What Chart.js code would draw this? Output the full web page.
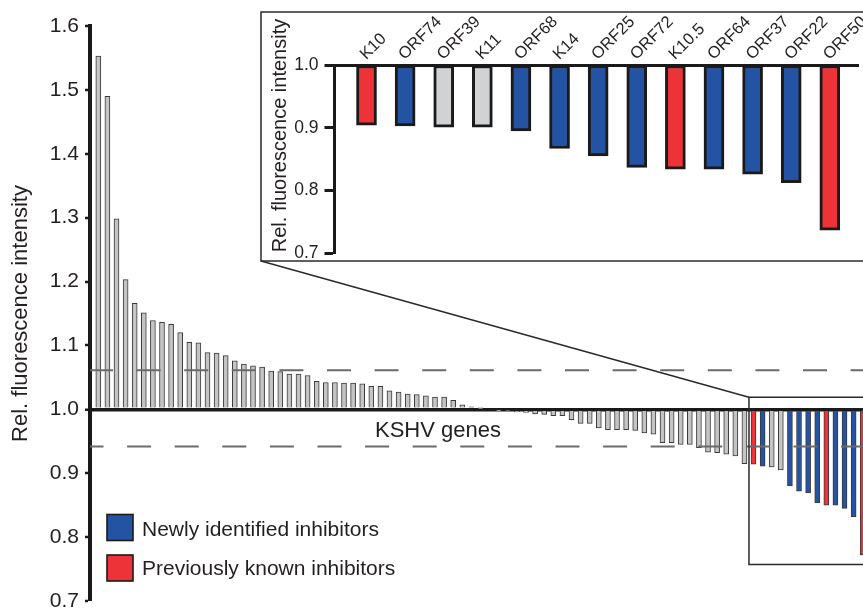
<!DOCTYPE html>
<html><head><meta charset="utf-8">
<script src="https://cdn.jsdelivr.net/npm/chart.js@4.4.1/dist/chart.umd.min.js"></script>
<style>
html,body{margin:0;padding:0;background:#fff;overflow:hidden;width:863px;height:609px;}
#wrap{position:relative;width:863px;height:609px;overflow:hidden;background:#fff;}
#main{position:absolute;left:0;top:0;}
#inset{position:absolute;left:260px;top:11px;}
</style></head><body>
<div id="wrap">
<canvas id="main" width="863" height="609"></canvas>
<canvas id="inset" width="620" height="252"></canvas>
</div>
<script>
// ---------- data ----------
const mainValues = [
  1.553,1.490,1.298,1.203,1.166,1.151,1.139,1.136,1.133,1.120,
  1.105,1.104,1.089,1.088,1.084,1.076,1.071,1.068,1.066,1.060,
  1.059,1.055,1.055,1.053,1.044,1.042,1.042,1.041,1.041,1.040,
  1.036,1.036,1.029,1.027,1.024,1.023,1.021,1.019,1.019,1.014,
  1.007,1.004,1.001,1.000,0.999,0.998,0.996,0.995,0.993,0.992,
  0.990,0.990,0.984,0.978,0.978,0.971,0.968,0.968,0.968,0.967,
  0.963,0.961,0.948,0.948,0.945,0.945,0.940,0.933,0.932,0.930,
  0.927,0.915,0.914,0.911,0.910,0.905,0.880,0.872,0.869,0.854,
  0.850,0.850,0.845,0.832,0.772
];
const mainThresholds = [1.061, 0.942];
const mainYTicks = [0.7,0.8,0.9,1.0,1.1,1.2,1.3,1.4,1.5,1.6];
const insetGenes = ['K10','ORF74','ORF39','K11','ORF68','K14','ORF25','ORF72','K10.5','ORF64','ORF37','ORF22','ORF50'];
const insetValues = [0.904,0.903,0.901,0.901,0.895,0.867,0.855,0.837,0.834,0.834,0.826,0.8125,0.737];
const insetTypes = ['known','new','other','other','new','new','new','new','known','new','new','new','known'];
const insetYTicks = [0.7,0.8,0.9,1.0];
const zoomRange = [1.019, 0.757];
const legendLabels = ['Newly identified inhibitors','Previously known inhibitors'];
const xAxisLabel = 'KSHV genes';
const yAxisLabel = 'Rel. fluorescence intensity';

// ---------- styles ----------
const FONT = '"Liberation Sans", Arial, Helvetica, sans-serif';
const TXT = '#231f20';
const INK = '#1a1a1a';
const FILL = { other: '#c4c4c4', new: '#2453a3', known: '#ed3338' };
const INSET_FILL = { other: '#d1d2d4', new: '#2453a3', known: '#ed3338' };
const LABEL_SHIFT = 0.27; // label anchor nudge (in category units) for rotated labels
const highlightStart = mainValues.length - insetValues.length;
const mainTypes = mainValues.map((v, i) => i < highlightStart ? 'other' : insetTypes[i - highlightStart]);

const mainDecor = {
  id: 'mainDecor',
  afterDatasetsDraw(chart) {
    const {ctx, chartArea, scales: {y}} = chart;
    const offsets = [1, 10.5];
    ctx.save();
    ctx.strokeStyle = '#6b6b6b';
    ctx.lineWidth = 2;
    ctx.setLineDash([24, 23.6]);
    mainThresholds.forEach((v, k) => {
      const py = y.getPixelForValue(v);
      ctx.lineDashOffset = offsets[k];
      ctx.beginPath();
      ctx.moveTo(chartArea.left, py);
      ctx.lineTo(chartArea.right, py);
      ctx.stroke();
    });
    ctx.restore();
  },
  afterDraw(chart) {
    const {ctx, scales: {x, y}} = chart;
    ctx.save();
    ctx.fillStyle = TXT;
    ctx.font = '22px ' + FONT;
    ctx.textAlign = 'center';
    ctx.textBaseline = 'middle';
    ctx.fillText(xAxisLabel, 438, 431);
    const sw = [['new', 514.5, 535.5], ['known', 555, 575]];
    sw.forEach(([t, top, base], k) => {
      ctx.fillStyle = FILL[t];
      ctx.fillRect(107, top, 26, 26);
      ctx.strokeStyle = INK;
      ctx.lineWidth = 1.6;
      ctx.strokeRect(107, top, 26, 26);
      ctx.fillStyle = TXT;
      ctx.font = '21px ' + FONT;
      ctx.textAlign = 'left';
      ctx.textBaseline = 'alphabetic';
      ctx.fillText(legendLabels[k], 142, base);
    });
    const bx = x.getPixelForValue(highlightStart - 0.5);
    const bt = y.getPixelForValue(zoomRange[0]);
    const bb = y.getPixelForValue(zoomRange[1]);
    ctx.strokeStyle = '#2a2a2a';
    ctx.lineWidth = 1.5;
    ctx.beginPath();
    ctx.moveTo(chart.width + 5, bt);
    ctx.lineTo(bx, bt);
    ctx.lineTo(bx, bb);
    ctx.lineTo(chart.width + 5, bb);
    ctx.stroke();
    ctx.beginPath();
    ctx.moveTo(261, 261);
    ctx.lineTo(bx, bt);
    ctx.stroke();
    ctx.restore();
  }
};

new Chart(document.getElementById('main'), {
  type: 'bar',
  data: {
    datasets: [{
      data: mainValues.map((v, i) => ({x: i, y: v})),
      base: 1,
      backgroundColor: mainTypes.map(t => FILL[t]),
      borderColor: '#3a3a3a',
      borderWidth: 1,
      borderSkipped: 'start',
      barThickness: 5
    }]
  },
  options: {
    responsive: false,
    animation: false,
    layout: {padding: {top: 26, bottom: 8, left: 0, right: 0}},
    plugins: {legend: {display: false}, tooltip: {enabled: false}},
    scales: {
      x: {type: 'linear', min: -0.912, max: 84.03, offset: false, display: false},
      y: {
        min: 0.7, max: 1.6, z: 1,
        afterFit(s) { s.width = 90; s.paddingTop = 0; s.paddingBottom = 0; },
        afterBuildTicks(s) { s.ticks = mainYTicks.map(v => ({value: v})); },
        ticks: {callback: v => Number(v).toFixed(1), font: {family: FONT, size: 21}, color: TXT, padding: 6},
        grid: {
          drawOnChartArea: true,
          color: c => (c.tick && Math.abs(c.tick.value - 1) < 1e-9) ? INK : 'rgba(0,0,0,0)',
          lineWidth: c => (c.tick && Math.abs(c.tick.value - 1) < 1e-9) ? 3.5 : 0,
          tickColor: INK, tickWidth: 2.5, tickLength: 5
        },
        border: {display: true, color: INK, width: 4},
        title: {display: true, text: yAxisLabel, font: {family: FONT, size: 22}, color: TXT, padding: {top: 8, bottom: 0}}
      }
    }
  },
  plugins: [mainDecor]
});

const insetDecor = {
  id: 'insetDecor',
  afterDraw(chart) {
    const {ctx} = chart;
    ctx.save();
    ctx.strokeStyle = '#2a2a2a';
    ctx.lineWidth = 1.5;
    ctx.strokeRect(1, 1, chart.width + 20, 249);
    ctx.translate(20, 124.5);
    ctx.rotate(-Math.PI / 2);
    ctx.fillStyle = TXT;
    ctx.font = '20px ' + FONT;
    ctx.textAlign = 'center';
    ctx.textBaseline = 'middle';
    ctx.fillText(yAxisLabel, 0, 0);
    ctx.restore();
  }
};

new Chart(document.getElementById('inset'), {
  type: 'bar',
  data: {
    datasets: [{
      data: insetValues.map((v, i) => ({x: i, y: v})),
      base: 1,
      backgroundColor: insetTypes.map(t => INSET_FILL[t]),
      borderColor: INK,
      borderWidth: 3,
      borderSkipped: false,
      barThickness: 20
    }]
  },
  options: {
    responsive: false,
    animation: false,
    layout: {padding: {top: 0, bottom: 9.7, left: 0, right: 22}},
    plugins: {legend: {display: false}, tooltip: {enabled: false}},
    scales: {
      x: {
        type: 'linear', position: 'top', min: -0.829, max: 12.73, offset: false, z: 1,
        afterFit(s) { s.height = 54; s.paddingLeft = 0; s.paddingRight = 0; },
        afterBuildTicks(s) { s.ticks = insetGenes.map((g, i) => ({value: i + LABEL_SHIFT})); },
        ticks: {autoSkip: false, minRotation: 45, maxRotation: 45, padding: 1,
                callback: v => insetGenes[Math.round(v - LABEL_SHIFT)], font: {family: FONT, size: 16.5}, color: TXT},
        grid: {display: false, drawTicks: false},
        border: {display: true, color: INK, width: 3}
      },
      y: {
        min: 0.7, max: 1.0,
        afterFit(s) { s.width = 74.5; s.paddingTop = 0; s.paddingBottom = 0; },
        afterBuildTicks(s) { s.ticks = insetYTicks.map(v => ({value: v})); },
        ticks: {callback: v => Number(v).toFixed(1), font: {family: FONT, size: 17.5}, color: TXT, padding: 6},
        grid: {drawOnChartArea: false, tickLength: 10, tickWidth: 3, tickColor: INK},
        border: {display: true, color: INK, width: 3}
      }
    }
  },
  plugins: [insetDecor]
});
</script>
</body></html>
